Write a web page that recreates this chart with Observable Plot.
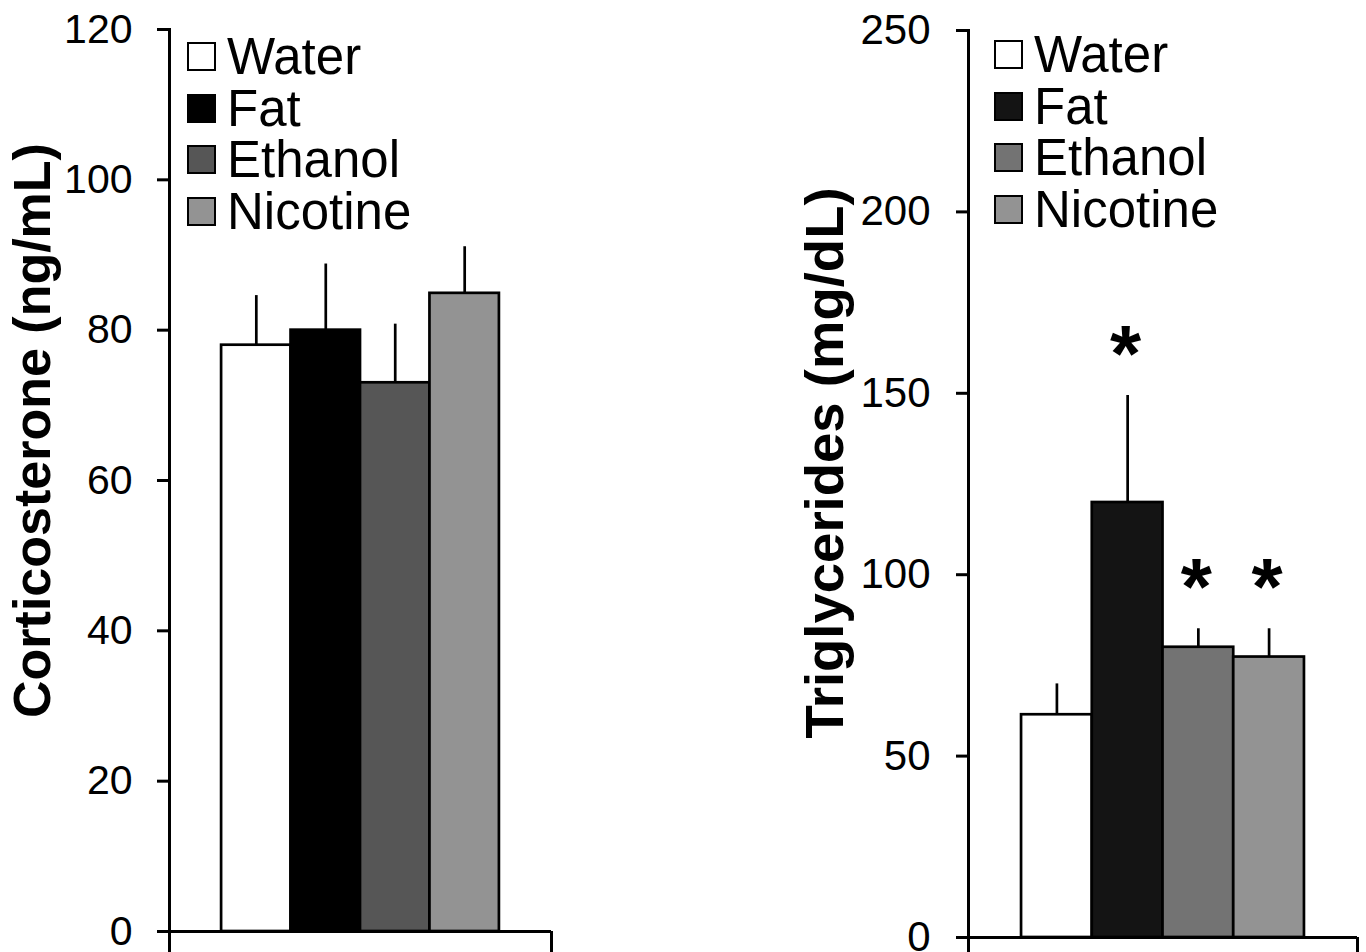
<!DOCTYPE html>
<html><head><meta charset="utf-8">
<script src="https://cdn.jsdelivr.net/npm/d3@7"></script>
<script src="https://cdn.jsdelivr.net/npm/@observablehq/plot@0.6"></script>
<style>
body{margin:0;background:#fff;font-family:"Liberation Sans",Arial,sans-serif;}
#wrap{position:relative;width:1366px;height:952px;overflow:hidden;background:#fff;}
.panel{position:absolute;top:0;}
.legend{position:absolute;}
.legend .row{display:flex;align-items:center;height:51.5px;font-size:51px;line-height:51.5px;color:#000;white-space:nowrap;}
.legend .sw{width:25px;height:25px;border:2px solid #000;margin-right:11px;flex:none;}
</style></head><body><div id="wrap"></div>
<script>
// ---- data ----
const series = ["Water", "Fat", "Ethanol", "Nicotine"];

const cortTitle = "Corticosterone (ng/mL)";
const cortMean = [78.0, 80.0, 73.0, 84.9];
const cortUpper = [84.6, 88.8, 80.8, 91.1];
const cortSig = [false, false, false, false];
const cortColors = ["#ffffff", "#000000", "#565656", "#939393"];
const cortTicks = [0, 20, 40, 60, 80, 100, 120];

const trigTitle = "Triglycerides (mg/dL)";
const trigMean = [61.4, 119.9, 80.0, 77.3];
const trigUpper = [69.9, 149.4, 85.1, 85.1];
const trigSig = [false, true, true, true];
const trigColors = ["#ffffff", "#141414", "#737373", "#939393"];
const trigTicks = [0, 50, 100, 150, 200, 250];

// ---- build ----
const wrap = document.getElementById("wrap");
const FONT = "Liberation Sans, Arial, sans-serif";

function panel(cfg) {
  const n = series.length;
  const step = 1 / (n + 1.5); // Excel-like 150% gap width within one category
  const rows = series.map((s, i) => ({
    series: s,
    mean: cfg.mean[i],
    upper: cfg.upper[i],
    sig: cfg.sig[i],
    x1: (0.75 + i) * step,
    x2: (1.75 + i) * step,
    xc: (1.25 + i) * step
  }));
  const chart = Plot.plot({
    width: cfg.width,
    height: 952,
    marginLeft: cfg.marginLeft,
    marginRight: 9,
    marginTop: cfg.marginTop,
    marginBottom: cfg.marginBottom,
    style: {fontFamily: FONT, color: "#000", background: "transparent", overflow: "visible"},
    x: {domain: [0, 1], axis: null, label: null},
    y: {domain: [0, cfg.ticks[cfg.ticks.length - 1]], axis: null, label: null},
    color: {domain: series, range: cfg.colors},
    marks: [
      Plot.rectY(rows, {x1: "x1", x2: "x2", y: "mean", fill: "series", stroke: "#000", strokeWidth: 2.7}),
      Plot.ruleX(rows, {x: "xc", y1: "mean", y2: "upper", stroke: "#000", strokeWidth: 2.7}),
      Plot.text(rows.filter(d => d.sig), {x: "xc", y: "upper", text: () => "*", fontSize: 80, fontWeight: "bold", dx: -2, dy: -40}),
      Plot.frame({anchor: "left", stroke: "#000", strokeWidth: 3}),
      Plot.ruleY([0], {stroke: "#000", strokeWidth: 3}),
      Plot.axisY({anchor: "left", ticks: cfg.ticks, tickSize: 12, tickPadding: cfg.tickPadding, fontSize: cfg.tickFont, stroke: "#000", strokeWidth: 3, label: null}),
      Plot.axisX({anchor: "bottom", ticks: [0, 1], tickSize: cfg.marginBottom, tickFormat: () => "", stroke: "#000", strokeWidth: 3, label: null}),
      Plot.text([cfg.title], {text: d => d, frameAnchor: "left", rotate: -90, fontSize: cfg.titleFont, fontWeight: "bold", dx: cfg.titleDx, dy: cfg.titleDy, textAnchor: "middle", lineAnchor: "middle"})
    ]
  });
  const div = document.createElement("div");
  div.className = "panel";
  div.style.left = cfg.left + "px";
  div.appendChild(chart);
  wrap.appendChild(div);

  const lg = document.createElement("div");
  lg.className = "legend";
  lg.style.left = cfg.legendLeft + "px";
  lg.style.top = cfg.legendTop + "px";
  series.forEach((s, i) => {
    const r = document.createElement("div");
    r.className = "row";
    const sw = document.createElement("span");
    sw.className = "sw";
    sw.style.background = cfg.colors[i];
    r.appendChild(sw);
    r.appendChild(document.createTextNode(s));
    lg.appendChild(r);
  });
  wrap.appendChild(lg);
}

panel({
  left: 0, width: 560, marginLeft: 169, marginTop: 29, marginBottom: 21,
  mean: cortMean, upper: cortUpper, sig: cortSig, colors: cortColors, ticks: cortTicks,
  tickFont: 41, tickPadding: 25,
  title: cortTitle, titleFont: 52, titleDx: -136, titleDy: -50,
  legendLeft: 187, legendTop: 31
});
panel({
  left: 800, width: 566, marginLeft: 168, marginTop: 30, marginBottom: 15,
  mean: trigMean, upper: trigUpper, sig: trigSig, colors: trigColors, ticks: trigTicks,
  tickFont: 42, tickPadding: 26,
  title: trigTitle, titleFont: 54.5, titleDx: -143, titleDy: -21,
  legendLeft: 994, legendTop: 29
});
</script>
</body></html>
